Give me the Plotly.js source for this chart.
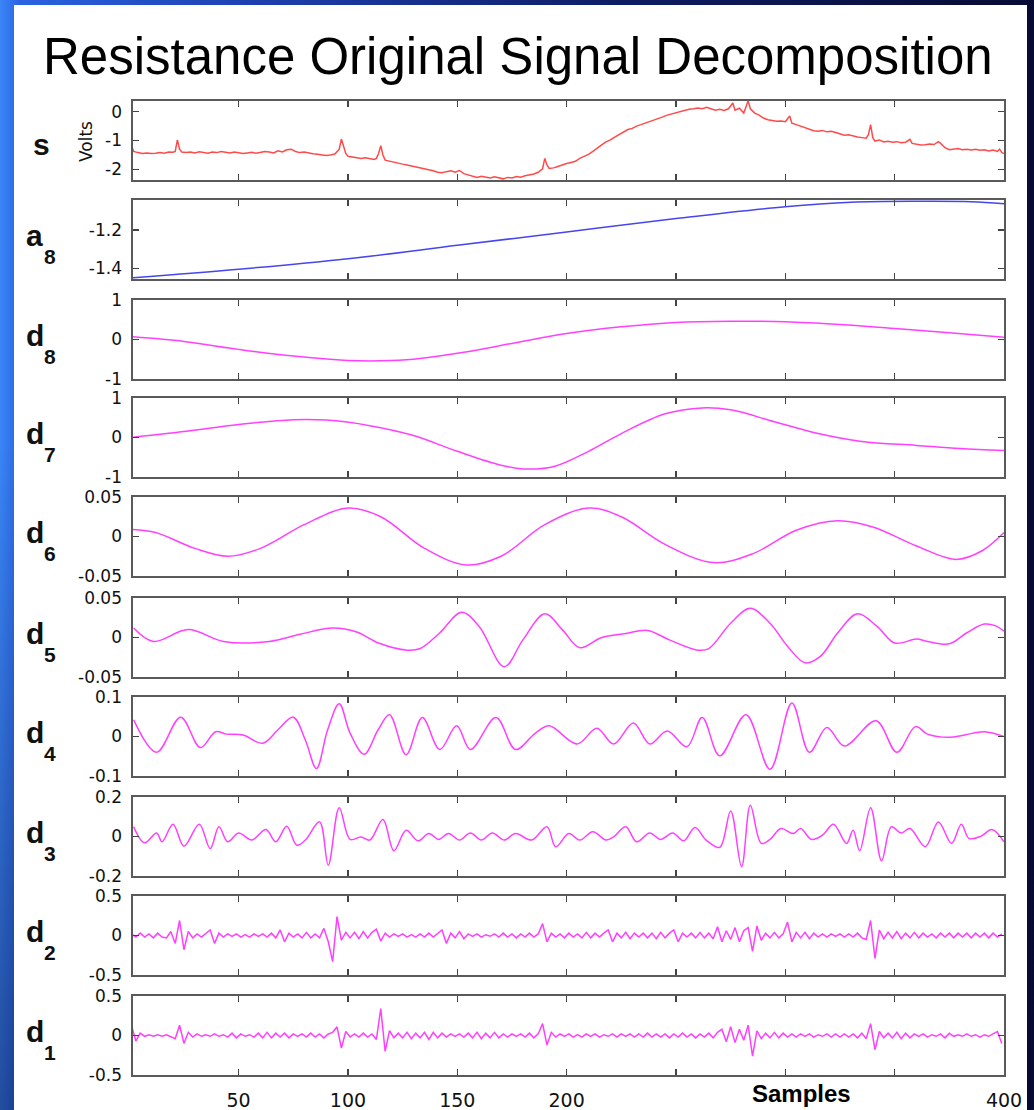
<!DOCTYPE html>
<html>
<head>
<meta charset="utf-8">
<script src="https://cdn.plot.ly/plotly-3.0.1.min.js"></script>
<style>
  html, body { margin: 0; padding: 0; width: 1034px; height: 1110px; overflow: hidden; }
  body {
    background:
      linear-gradient(to bottom, rgba(0,0,0,0) 0%, rgba(0,0,0,0) 40%, rgba(5,10,50,0.45) 100%),
      linear-gradient(to right, #3a86f7 0%, #2a62e0 2%, #1d3fae 25%, #0e1c62 60%, #070b33 100%);
  }
  #panel { position: absolute; left: 14px; top: 5px; width: 1013px; height: 1105px; background: #ffffff; }
  #chart { position: absolute; left: 0; top: 0; width: 1034px; height: 1110px; }
</style>
</head>
<body>
<div id="panel"></div>
<div id="chart"></div>
<script>
// ---------------- DATA ----------------
const rowNames = ['s', 'a', 'd', 'd', 'd', 'd', 'd', 'd', 'd', 'd'];
const rowSubs  = ['', '8', '8', '7', '6', '5', '4', '3', '2', '1'];

const xTickVals = [50, 100, 150, 200, 250, 300, 350, 400];
const xTickText = ['50', '100', '150', '200', '', '', '', '400'];

// s : original signal (Volts)
const sX = [1,2,4,6,8,10,12,14,16,18,20,21,22,23,24,26,28,30,32,34,36,38,40,42,44,46,48,50,52,54,56,58,60,62,64,66,68,70,72,74,76,78,80,82,84,86,88,90,92,94,96,97,98,99,100,102,104,106,108,110,112,113,114,115,116,117,119,121,123,125,127,129,131,133,135,137,139,141,143,145,147,149,151,153,155,157,159,161,163,165,167,169,171,173,175,177,179,181,183,185,187,189,190,191,192,194,196,198,200,202,204,206,208,210,212,214,216,218,220,222,224,226,228,230,232,234,236,238,240,242,244,246,248,250,252,254,256,258,260,262,264,266,268,270,272,274,276,277,279,281,283,284,286,288,290,292,294,296,298,300,302,303,305,307,309,311,313,315,317,319,321,323,325,327,329,331,333,335,337,338,339,340,341,343,345,347,349,351,353,355,357,358,360,362,364,366,368,370,371,373,375,377,379,381,383,385,387,389,391,393,395,397,398,399,400];
const sY = [-1.16,-1.38,-1.42,-1.45,-1.43,-1.45,-1.44,-1.42,-1.44,-1.40,-1.41,-1.38,-0.98,-1.30,-1.40,-1.42,-1.40,-1.43,-1.39,-1.42,-1.44,-1.40,-1.42,-1.38,-1.41,-1.43,-1.40,-1.42,-1.45,-1.43,-1.41,-1.44,-1.42,-1.38,-1.40,-1.43,-1.36,-1.40,-1.32,-1.30,-1.38,-1.42,-1.40,-1.44,-1.46,-1.48,-1.50,-1.52,-1.50,-1.47,-1.30,-0.95,-1.20,-1.45,-1.55,-1.58,-1.60,-1.62,-1.60,-1.63,-1.66,-1.62,-1.45,-1.18,-1.50,-1.68,-1.72,-1.76,-1.80,-1.82,-1.85,-1.88,-1.92,-1.95,-1.98,-2.00,-2.05,-2.10,-2.12,-2.08,-2.05,-2.10,-2.04,-2.15,-2.20,-2.25,-2.28,-2.24,-2.27,-2.30,-2.26,-2.29,-2.33,-2.28,-2.30,-2.25,-2.27,-2.22,-2.20,-2.16,-2.10,-1.98,-1.62,-1.85,-1.97,-1.95,-1.90,-1.84,-1.80,-1.76,-1.72,-1.62,-1.55,-1.48,-1.38,-1.25,-1.15,-1.05,-0.98,-0.88,-0.80,-0.70,-0.62,-0.58,-0.50,-0.45,-0.40,-0.35,-0.30,-0.25,-0.18,-0.12,-0.08,-0.02,0.02,0.05,0.08,0.10,0.13,0.10,0.15,0.10,0.05,0.08,0.04,0.10,0.30,0.05,0.12,-0.05,0.38,0.10,-0.05,-0.12,-0.22,-0.28,-0.30,-0.33,-0.32,-0.35,-0.15,-0.40,-0.45,-0.50,-0.55,-0.62,-0.66,-0.68,-0.65,-0.70,-0.68,-0.72,-0.78,-0.82,-0.80,-0.85,-0.88,-0.90,-0.92,-0.80,-0.45,-0.90,-1.02,-0.98,-1.05,-1.03,-1.06,-1.04,-1.08,-1.06,-0.96,-1.10,-1.14,-1.16,-1.15,-1.12,-1.14,-1.04,-1.10,-1.25,-1.32,-1.30,-1.28,-1.32,-1.30,-1.33,-1.30,-1.34,-1.32,-1.36,-1.33,-1.38,-1.30,-1.42,-1.45];

// a8 : approximation
const a8X = [1, 50, 100, 150, 200, 250, 300, 330, 360, 385, 400];
const a8Y = [-1.450, -1.405, -1.350, -1.280, -1.210, -1.140, -1.078, -1.055, -1.050, -1.052, -1.062];

// d8
const d8X = [1, 25, 50, 75, 100, 115, 130, 150, 175, 200, 225, 250, 275, 300, 325, 350, 375, 400];
const d8Y = [0.07, -0.05, -0.25, -0.42, -0.53, -0.54, -0.50, -0.35, -0.10, 0.15, 0.32, 0.43, 0.46, 0.45, 0.38, 0.28, 0.17, 0.06];

// d7
const d7X = [1, 25, 50, 75, 90, 110, 130, 150, 170, 182, 195, 210, 225, 245, 262, 275, 295, 315, 335, 360, 380, 400];
const d7Y = [0.00, 0.15, 0.33, 0.45, 0.44, 0.30, 0.05, -0.35, -0.70, -0.80, -0.72, -0.35, 0.10, 0.60, 0.75, 0.70, 0.40, 0.10, -0.10, -0.20, -0.28, -0.33];

// d6
const d6X = [1, 12, 30, 45, 60, 80, 100, 115, 135, 154, 170, 190, 210, 225, 245, 267, 285, 305, 324, 340, 360, 378, 390, 400];
const d6Y = [0.009, 0.005, -0.015, -0.025, -0.015, 0.015, 0.036, 0.025, -0.015, -0.036, -0.025, 0.015, 0.036, 0.025, -0.010, -0.033, -0.022, 0.008, 0.020, 0.012, -0.012, -0.029, -0.018, 0.005];

// d5
const d5X = [2, 11, 27, 43, 64, 78, 93, 104, 114, 127, 133, 142, 152, 160, 171.5, 180, 190, 198, 206, 216, 227, 237, 247, 260, 265, 275, 284, 293, 301, 309, 316, 324, 333, 342, 350, 360, 365, 375, 383, 391, 396, 400];
const d5Y = [0.012, -0.005, 0.010, -0.005, -0.005, 0.004, 0.012, 0.007, -0.007, -0.016, -0.014, 0.006, 0.032, 0.014, -0.037, -0.003, 0.030, 0.010, -0.013, 0.000, 0.005, 0.009, -0.003, -0.016, -0.014, 0.018, 0.037, 0.018, -0.011, -0.032, -0.024, 0.006, 0.030, 0.014, -0.007, -0.002, -0.005, -0.008, 0.006, 0.017, 0.015, 0.008];

// d4
const d4X = [2, 12.5, 23.5, 32.5, 39.5, 44.5, 52, 61, 68, 75, 80.5, 85.6, 90.7, 96, 101, 107.4, 113.8, 119, 126.6, 134, 142, 149.7, 156, 167.7, 176.6, 185.6, 192, 204.8, 213.8, 221.5, 230.5, 238, 246, 255, 262, 270, 282, 293, 303, 311, 319, 327, 341.5, 351, 359.5, 365, 375, 382, 391, 400];
const d4Y = [0.042, -0.040, 0.049, -0.028, 0.012, 0.006, 0.004, -0.017, 0.017, 0.049, -0.009, -0.081, 0.017, 0.083, 0.008, -0.045, 0.017, 0.055, -0.046, 0.048, -0.033, 0.027, -0.033, 0.048, -0.033, 0.008, 0.027, -0.019, 0.021, -0.019, 0.034, -0.019, 0.014, -0.026, 0.048, -0.049, 0.055, -0.083, 0.085, -0.040, 0.023, -0.024, 0.040, -0.040, 0.025, 0.006, -0.002, 0.004, 0.012, 0.000];

// d3
const d3X = [2, 7, 12.5, 15, 20, 25, 32, 37, 41, 45, 50, 56, 62.5, 67, 72, 76.6, 80.5, 87, 91, 96, 101, 106, 110, 116, 121, 126.6, 132, 137, 141.5, 146, 151, 156, 161, 166, 171.5, 176.6, 184, 191, 195, 201, 206, 212, 218, 221.5, 227, 232, 238, 243, 248.5, 253.5, 258.7, 263.8, 270, 275, 280, 284, 289, 293, 298, 303.6, 307, 312, 317, 322, 328, 331, 334, 339, 344, 348.5, 353, 357, 364, 370, 376, 380.5, 384, 389.5, 394.5, 400];
const d3Y = [0.049, -0.032, 0.018, -0.027, 0.062, -0.049, 0.062, -0.061, 0.049, -0.027, 0.018, -0.018, 0.035, -0.027, 0.052, -0.044, -0.018, 0.074, -0.145, 0.146, -0.015, -0.002, -0.018, 0.086, -0.072, 0.032, -0.022, 0.015, -0.015, 0.015, -0.018, 0.018, -0.018, 0.018, -0.018, 0.015, -0.018, 0.049, -0.052, 0.015, -0.018, 0.024, -0.018, -0.002, 0.049, -0.027, 0.018, -0.015, 0.018, -0.022, 0.045, -0.018, -0.055, 0.129, -0.153, 0.158, -0.035, -0.015, 0.040, 0.015, 0.040, -0.015, 0.007, 0.062, -0.035, 0.032, -0.072, 0.146, -0.123, 0.049, 0.018, 0.040, -0.052, 0.074, -0.035, 0.062, -0.010, 0.002, 0.035, -0.027];

// d2 : values at samples 1,3,5,...,399
const d2Y = [0.02,-0.02,0.03,-0.02,0.02,-0.03,0.03,-0.02,-0.03,0.05,-0.10,0.19,-0.18,0.05,-0.03,0.02,-0.02,0.03,0.07,-0.10,
  0.03,-0.02,0.02,-0.01,0.02,-0.02,0.01,-0.02,0.02,-0.01,0.02,-0.02,0.03,-0.03,0.07,-0.08,0.03,-0.02,0.02,-0.03,
  0.04,-0.03,0.02,-0.03,0.09,-0.08,-0.33,0.24,-0.06,0.04,-0.03,0.04,-0.04,0.05,-0.03,0.04,0.08,-0.07,0.03,-0.02,
  0.02,-0.01,0.02,-0.02,0.01,-0.02,0.02,-0.02,0.03,-0.02,0.02,0.07,-0.10,0.03,-0.03,0.05,-0.04,0.02,-0.01,0.02,
  -0.02,0.01,-0.01,0.02,-0.02,0.03,-0.02,0.02,-0.03,0.02,-0.02,0.03,-0.02,0.02,0.15,-0.08,0.03,-0.02,0.02,-0.03,
  0.03,-0.02,0.02,-0.03,0.04,-0.03,0.03,-0.02,0.03,0.07,-0.08,0.03,-0.03,0.04,-0.04,0.03,-0.02,0.03,-0.03,0.03,
  -0.04,0.04,-0.03,0.03,0.07,-0.08,0.03,-0.02,0.03,-0.03,0.04,-0.03,0.03,-0.04,0.11,-0.08,0.06,-0.05,0.10,-0.08,
  0.06,0.10,-0.20,0.12,-0.06,0.03,-0.03,0.04,-0.03,0.02,0.17,-0.08,0.04,-0.03,0.04,-0.04,0.03,-0.02,0.02,-0.02,
  0.02,-0.01,0.02,-0.02,0.02,-0.02,0.03,-0.03,-0.05,0.19,-0.29,0.07,-0.04,0.04,-0.03,0.05,-0.04,0.03,-0.03,0.04,
  -0.03,0.03,-0.02,0.02,-0.03,0.03,-0.02,0.03,-0.03,0.03,-0.02,0.03,-0.03,0.03,-0.02,0.03,-0.03,0.03,-0.02,0.02];

// d1 : values at samples 1,3,5,...,399
const d1Y = [0.13,-0.07,0.03,-0.01,0.01,-0.01,0.01,-0.01,0.01,-0.02,-0.04,0.13,-0.10,0.04,-0.02,0.02,-0.01,0.01,-0.01,0.02,
  -0.01,0.01,-0.02,0.03,-0.03,0.02,-0.01,0.01,-0.02,0.03,-0.03,0.04,-0.03,0.03,-0.02,0.03,-0.03,0.02,-0.01,0.02,
  -0.02,0.03,-0.02,0.02,-0.03,0.02,0.04,0.11,-0.16,0.05,-0.02,0.02,-0.02,0.03,-0.02,0.02,-0.05,0.34,-0.20,0.06,
  -0.03,0.03,-0.03,0.04,-0.04,0.03,-0.03,0.04,-0.05,0.04,-0.03,0.03,-0.02,0.02,-0.01,0.02,-0.02,0.03,-0.03,0.04,
  -0.04,0.03,-0.03,0.04,-0.03,0.02,-0.02,0.02,-0.01,0.02,-0.02,0.03,-0.03,0.02,0.15,-0.12,0.04,-0.02,0.02,-0.01,
  0.02,-0.02,0.01,-0.02,0.02,-0.01,0.02,-0.02,0.01,-0.01,0.02,-0.02,0.02,-0.01,0.02,-0.02,0.02,-0.02,0.03,-0.02,
  0.02,-0.02,0.02,-0.03,0.02,-0.02,0.03,-0.02,0.02,-0.03,0.02,-0.02,0.03,-0.03,0.04,0.08,-0.08,0.11,-0.09,0.08,
  -0.06,0.13,-0.26,0.06,-0.04,0.03,-0.03,0.04,-0.03,0.03,-0.02,0.02,-0.02,0.02,-0.01,0.02,-0.02,0.01,-0.01,0.02,
  -0.02,0.02,-0.02,0.02,-0.02,0.02,-0.03,0.03,-0.04,0.15,-0.18,0.05,-0.03,0.03,-0.03,0.04,-0.04,0.03,-0.03,0.02,
  -0.01,0.02,-0.02,0.01,-0.01,0.02,-0.03,0.03,-0.01,0.01,-0.01,0.02,-0.01,0.01,-0.02,0.01,-0.01,0.02,0.05,-0.10];

// y axis settings per row
const yRanges = [[-2.37, 0.37], [-1.456, -1.043], [-1, 1], [-1, 1], [-0.05, 0.05], [-0.05, 0.05], [-0.1, 0.1], [-0.2, 0.2], [-0.5, 0.5], [-0.5, 0.5]];
const yTicks  = [[0, -1, -2], [-1.2, -1.4], [-1, 0, 1], [-1, 0, 1], [-0.05, 0, 0.05], [-0.05, 0, 0.05], [-0.1, 0, 0.1], [-0.2, 0, 0.2], [-0.5, 0, 0.5], [-0.5, 0, 0.5]];
const yTickText = [['0', '-1', '-2'], ['-1.2', '-1.4'], ['-1', '0', '1'], ['-1', '0', '1'], ['-0.05', '0', '0.05'], ['-0.05', '0', '0.05'], ['-0.1', '0', '0.1'], ['-0.2', '0', '0.2'], ['-0.5', '0', '0.5'], ['-0.5', '0', '0.5']];

// ---------------- LAYOUT ----------------
const W = 1034, H = 1110;
const plotLeft = 133, plotRight = 1004;
const panelTops = [101, 200, 300, 398, 497, 598, 697, 797, 896, 996];
const panelH = 79;
const px = x => x / W;
const py = y => 1 - y / H;

const red = '#ff4a4a', blue = '#4646ee', mag = '#ff40ff';
const gridX = arr => arr.map((_, i) => 1 + 2 * i);

const series = [
  { x: sX, y: sY, color: red, shape: 'linear' },
  { x: a8X, y: a8Y, color: blue, shape: 'spline' },
  { x: d8X, y: d8Y, color: mag, shape: 'spline' },
  { x: d7X, y: d7Y, color: mag, shape: 'spline' },
  { x: d6X, y: d6Y, color: mag, shape: 'spline' },
  { x: d5X, y: d5Y, color: mag, shape: 'spline' },
  { x: d4X, y: d4Y, color: mag, shape: 'spline' },
  { x: d3X, y: d3Y, color: mag, shape: 'spline' },
  { x: gridX(d2Y), y: d2Y, color: mag, shape: 'linear' },
  { x: gridX(d1Y), y: d1Y, color: mag, shape: 'linear' }
];

const traces = [];
const layout = {
  width: W, height: H,
  margin: { l: 0, r: 0, t: 0, b: 0 },
  paper_bgcolor: 'rgba(0,0,0,0)',
  plot_bgcolor: '#ffffff',
  showlegend: false,
  font: { family: 'DejaVu Sans, sans-serif', color: '#111' },
  annotations: []
};

const axisCommon = {
  showline: true, linecolor: '#5a5a5a', linewidth: 1.6,
  mirror: 'ticks', ticks: 'inside', ticklen: 6, tickwidth: 1.4, tickcolor: '#444',
  showgrid: false, zeroline: false, fixedrange: true
};

series.forEach((s, i) => {
  const n = i + 1;
  const xa = n === 1 ? 'x' : 'x' + n;
  const ya = n === 1 ? 'y' : 'y' + n;
  traces.push({
    type: 'scatter', mode: 'lines', x: s.x, y: s.y,
    xaxis: xa, yaxis: ya,
    line: { color: s.color, width: 1.5, shape: s.shape, smoothing: 1 },
    hoverinfo: 'skip'
  });
  const top = panelTops[i], bot = top + panelH;
  const isLast = i === series.length - 1;
  layout['xaxis' + (n === 1 ? '' : n)] = Object.assign({}, axisCommon, {
    domain: [px(plotLeft), px(plotRight)],
    anchor: ya,
    range: [1.7, 400],
    tickvals: xTickVals,
    ticktext: xTickText,
    showticklabels: isLast,
    tickfont: { family: 'DejaVu Sans, sans-serif', size: 19, color: '#111' },
    ticklabelstandoff: 8
  });
  layout['yaxis' + (n === 1 ? '' : n)] = Object.assign({}, axisCommon, {
    domain: [py(bot), py(top)],
    anchor: xa,
    range: yRanges[i],
    tickvals: yTicks[i],
    ticktext: yTickText[i],
    tickfont: { family: 'DejaVu Sans, sans-serif', size: 17, color: '#111' },
    ticklabelstandoff: 6
  });

  // row label
  const cy = top + panelH / 2;
  if (rowSubs[i] === '') {
    layout.annotations.push({
      xref: 'paper', yref: 'paper', x: px(31), y: py(cy + 4), xanchor: 'left', yanchor: 'middle',
      text: '<b>' + rowNames[i] + '</b>', showarrow: false,
      font: { family: 'Liberation Sans, Arial, sans-serif', size: 30, color: '#111' }
    });
  } else {
    layout.annotations.push({
      xref: 'paper', yref: 'paper', x: px(24), y: py(cy - 4), xanchor: 'left', yanchor: 'middle',
      text: '<b>' + rowNames[i] + '</b>', showarrow: false,
      font: { family: 'Liberation Sans, Arial, sans-serif', size: 30, color: '#111' }
    });
    layout.annotations.push({
      xref: 'paper', yref: 'paper', x: px(42), y: py(cy + 17), xanchor: 'left', yanchor: 'middle',
      text: '<b>' + rowSubs[i] + '</b>', showarrow: false,
      font: { family: 'Liberation Sans, Arial, sans-serif', size: 21, color: '#111' }
    });
  }
});

// Title
layout.annotations.push({
  xref: 'paper', yref: 'paper', x: px(518), y: py(56), xanchor: 'center', yanchor: 'middle',
  text: 'Resistance Original Signal Decomposition', showarrow: false,
  font: { family: 'Liberation Sans, Arial, sans-serif', size: 51, color: '#000' }
});
// Volts
layout.annotations.push({
  xref: 'paper', yref: 'paper', x: px(86), y: py(142), xanchor: 'center', yanchor: 'middle',
  text: 'Volts', textangle: -90, showarrow: false,
  font: { family: 'DejaVu Sans, sans-serif', size: 17, color: '#111' }
});
// Samples
layout.annotations.push({
  xref: 'paper', yref: 'paper', x: px(801), y: py(1093), xanchor: 'center', yanchor: 'middle',
  text: '<b>Samples</b>', showarrow: false,
  font: { family: 'Liberation Sans, Arial, sans-serif', size: 24, color: '#000' }
});

Plotly.newPlot('chart', traces, layout, { displayModeBar: false, staticPlot: true });
</script>
</body>
</html>
